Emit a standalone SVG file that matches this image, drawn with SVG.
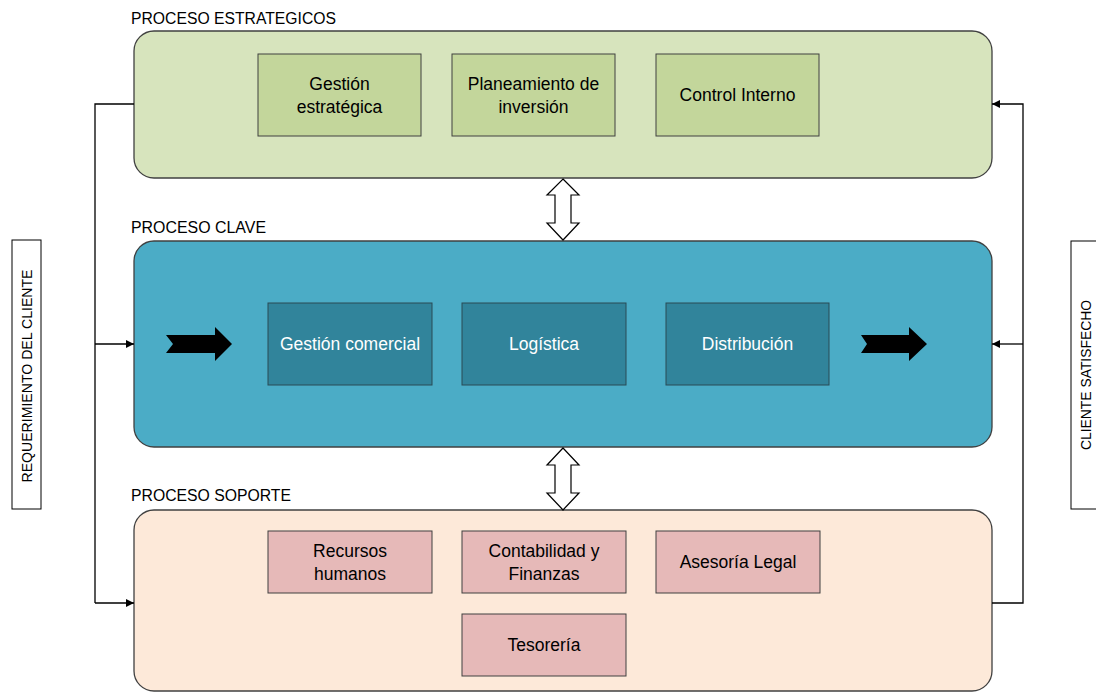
<svg xmlns="http://www.w3.org/2000/svg" width="1096" height="693" viewBox="0 0 1096 693">
  <defs>
    <style>
      .panel { stroke: #404040; stroke-width: 1.3; }
      .box { stroke: #404040; stroke-width: 1; }
      .green-panel { fill: #d7e4bd; }
      .blue-panel { fill: #4bacc6; }
      .peach-panel { fill: #fde9d9; }
      .green-box { fill: #c3d69b; }
      .blue-box { fill: #31849b; stroke: #2a4a55; }
      .pink-box { fill: #e6b9b8; }
      .label { font-family: "Liberation Sans", Arial, sans-serif; font-size: 16px; fill: #000; }
      .txt { font-family: "Liberation Sans", Arial, sans-serif; font-size: 17.5px; fill: #000; text-anchor: middle; }
      .txt-w { fill: #fff; }
      .side { font-family: "Liberation Sans", Arial, sans-serif; font-size: 14px; fill: #000; text-anchor: middle; }
      .conn { fill: none; stroke: #000; stroke-width: 1.3; }
      .dbl { fill: #fff; stroke: #000; stroke-width: 1.2; }
    </style>
    <marker id="tri" viewBox="0 0 10 10" refX="10" refY="5" markerWidth="8" markerHeight="8" markerUnits="userSpaceOnUse" orient="auto">
      <path d="M0,0 L10,5 L0,10 Z" fill="#000"/>
    </marker>
  </defs>

  <!-- side labels -->
  <g id="requerimiento">
    <rect x="12" y="240" width="29" height="269" fill="#fff" stroke="#000" stroke-width="1"/>
    <text class="side" transform="translate(32,376) rotate(-90)" textLength="213" lengthAdjust="spacingAndGlyphs">REQUERIMIENTO DEL CLIENTE</text>
  </g>
  <g id="satisfecho">
    <rect x="1071" y="241" width="40" height="268" fill="#fff" stroke="#000" stroke-width="1"/>
    <text class="side" transform="translate(1091,375) rotate(-90)" textLength="150" lengthAdjust="spacingAndGlyphs">CLIENTE SATISFECHO</text>
  </g>

  <!-- strategic processes -->
  <g id="estrategicos">
    <text class="label" x="131" y="24" textLength="205" lengthAdjust="spacingAndGlyphs">PROCESO ESTRATEGICOS</text>
    <rect class="panel green-panel" x="134" y="31" width="858" height="147" rx="20"/>
    <g id="gestion-estrategica">
      <rect class="box green-box" x="258" y="54" width="163" height="82"/>
      <text class="txt" x="339.5" y="90">Gestión</text>
      <text class="txt" x="339.5" y="113">estratégica</text>
    </g>
    <g id="planeamiento">
      <rect class="box green-box" x="452" y="54" width="163" height="82"/>
      <text class="txt" x="533.5" y="90">Planeamiento de</text>
      <text class="txt" x="533.5" y="113">inversión</text>
    </g>
    <g id="control-interno">
      <rect class="box green-box" x="656" y="54" width="163" height="82"/>
      <text class="txt" x="737.5" y="101">Control Interno</text>
    </g>
  </g>

  <!-- key processes -->
  <g id="clave">
    <text class="label" x="131" y="233" textLength="135" lengthAdjust="spacingAndGlyphs">PROCESO CLAVE</text>
    <rect class="panel blue-panel" x="134" y="241" width="858" height="206" rx="20"/>
    <g id="gestion-comercial">
      <rect class="box blue-box" x="268" y="303" width="164" height="82"/>
      <text class="txt txt-w" x="350" y="350">Gestión comercial</text>
    </g>
    <g id="logistica">
      <rect class="box blue-box" x="462" y="303" width="164" height="82"/>
      <text class="txt txt-w" x="544" y="350">Logística</text>
    </g>
    <g id="distribucion">
      <rect class="box blue-box" x="666" y="303" width="163" height="82"/>
      <text class="txt txt-w" x="747.5" y="350">Distribución</text>
    </g>
    <path id="flecha-entrada" d="M166,335 L215,335 L215,327 L232,344 L215,361 L215,353 L166,353 L173,344 Z" fill="#000"/>
    <path id="flecha-salida" d="M861,335 L909,335 L909,327 L927,344 L909,361 L909,353 L861,353 L867,344 Z" fill="#000"/>
  </g>

  <!-- support processes -->
  <g id="soporte">
    <text class="label" x="131" y="501" textLength="160" lengthAdjust="spacingAndGlyphs">PROCESO SOPORTE</text>
    <rect class="panel peach-panel" x="134" y="510" width="858" height="181" rx="20"/>
    <g id="recursos-humanos">
      <rect class="box pink-box" x="268" y="531" width="164" height="62"/>
      <text class="txt" x="350" y="557">Recursos</text>
      <text class="txt" x="350" y="580">humanos</text>
    </g>
    <g id="contabilidad">
      <rect class="box pink-box" x="462" y="531" width="164" height="62"/>
      <text class="txt" x="544" y="557">Contabilidad y</text>
      <text class="txt" x="544" y="580">Finanzas</text>
    </g>
    <g id="asesoria">
      <rect class="box pink-box" x="656" y="531" width="164" height="62"/>
      <text class="txt" x="738" y="568">Asesoría Legal</text>
    </g>
    <g id="tesoreria">
      <rect class="box pink-box" x="462" y="614" width="164" height="62"/>
      <text class="txt" x="544" y="651">Tesorería</text>
    </g>
  </g>

  <!-- connectors -->
  <g id="connectors">
    <path class="conn" d="M134,104 L95,104 L95,603"/>
    <path class="conn" d="M95,344 L134,344" marker-end="url(#tri)"/>
    <path class="conn" d="M95,603 L134,603" marker-end="url(#tri)"/>
    <path class="conn" d="M992,603 L1023,603 L1023,104 L992,104" marker-end="url(#tri)"/>
    <path class="conn" d="M1023,344 L992,344" marker-end="url(#tri)"/>
    <path class="dbl" d="M563,179 L579,195 L571,195 L571,223 L579,223 L563,240 L547,223 L555,223 L555,195 L547,195 Z"/>
    <path class="dbl" d="M563,448 L579,465 L571,465 L571,493 L579,493 L563,510 L547,493 L555,493 L555,465 L547,465 Z"/>
  </g>
</svg>
